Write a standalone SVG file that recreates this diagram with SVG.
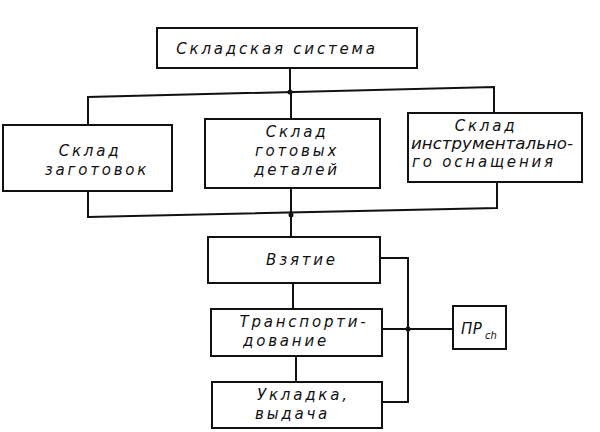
<svg xmlns="http://www.w3.org/2000/svg" width="600" height="432" viewBox="0 0 600 432">
<style>
.box{fill:none;stroke:#111;stroke-width:2}
.ln{fill:none;stroke:#111;stroke-width:2}
.t{font-family:"DejaVu Sans","Liberation Sans",sans-serif;font-style:italic;font-size:15px;fill:#111;text-anchor:middle;letter-spacing:2.8px}
.s{text-anchor:start}
</style>
<rect width="600" height="432" fill="#fff"/>
<g id="connectors">
<path class="ln" d="M290 68V92M88 125V97L494 87V113"/>
<path class="ln" d="M291 92V119"/>
<path class="ln" d="M88 191V217L497 208V182M291 188V237"/>
<path class="ln" d="M293 283V309M296 356V382"/>
<path class="ln" d="M380 258H408V402H382M382 329H453"/>
<circle cx="290" cy="92" r="2.5" fill="#111"/>
<circle cx="291" cy="215" r="2.5" fill="#111"/>
<circle cx="408" cy="329" r="2.5" fill="#111"/>
</g>
<g id="n_system"><rect class="box" x="157" y="28" width="260" height="40"/><text class="t" x="277" y="54">Складская система</text></g>
<g id="n_zag"><rect class="box" x="3" y="125" width="169" height="66"/><text class="t" x="90" y="156">Склад</text><text class="t" x="97" y="175">заготовок</text></g>
<g id="n_got"><rect class="box" x="205" y="119" width="175" height="69"/><text class="t" x="297" y="137">Склад</text><text class="t" x="297" y="156">готовых</text><text class="t" x="297" y="175">деталей</text></g>
<g id="n_instr"><rect class="box" x="408" y="113" width="174" height="69"/><text class="t" x="486" y="131">Склад</text><text class="t s" x="411" y="149" textLength="162" lengthAdjust="spacingAndGlyphs" style="letter-spacing:0">инструментально-</text><text class="t" x="484" y="167">го оснащения</text></g>
<g id="n_vz"><rect class="box" x="208" y="237" width="172" height="46"/><text class="t" x="302" y="265">Взятие</text></g>
<g id="n_tr"><rect class="box" x="211" y="309" width="171" height="47"/><text class="t" x="304" y="327">Транспорти-</text><text class="t s" x="243" y="346">дование</text></g>
<g id="n_uk"><rect class="box" x="212" y="382" width="170" height="46"/><text class="t s" x="257" y="400">Укладка,</text><text class="t s" x="255" y="419">выдача</text></g>
<g id="n_pr"><rect class="box" x="453" y="306" width="53" height="43"/><text class="t s" x="461" y="334" style="letter-spacing:0.5px">ПР</text><text class="t s" x="485" y="339" style="font-size:10px;letter-spacing:0">ch</text></g>
</svg>
